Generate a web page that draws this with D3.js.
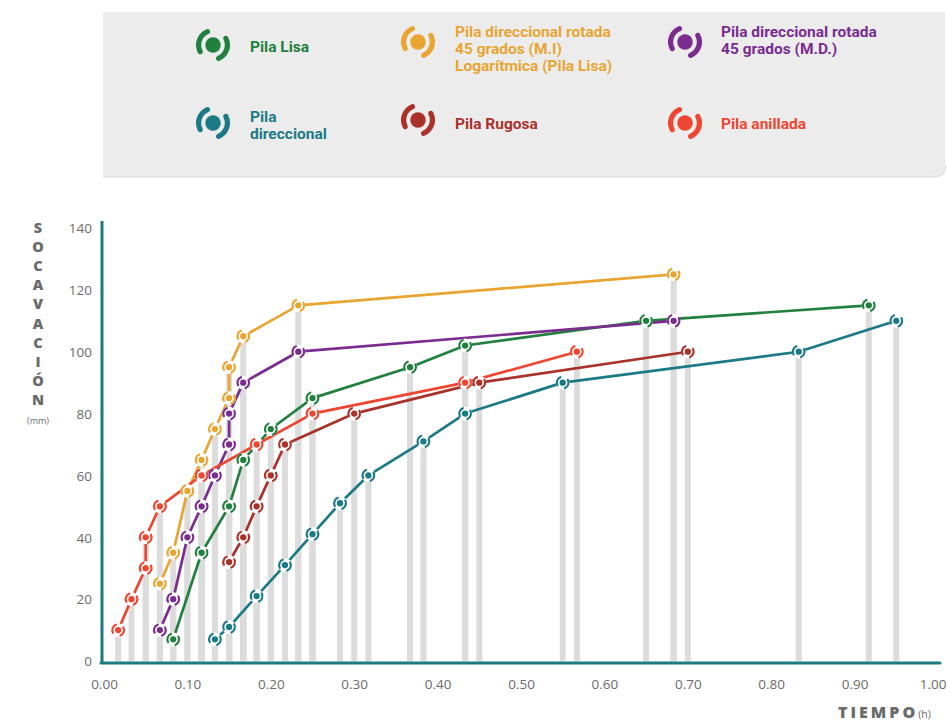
<!DOCTYPE html>
<html>
<head>
<meta charset="utf-8">
<script src="https://cdn.jsdelivr.net/npm/d3@7"></script>
<style>
  html, body { margin: 0; padding: 0; background: #fff; }
  svg { display: block; }
  text { font-family: "Open Sans", "Noto Sans", sans-serif; }
  .lg { font-family: Roboto, "Noto Sans", sans-serif; font-weight: 700; font-size: 15.5px; }
</style>
</head>
<body>
<svg id="chart" width="947" height="722"></svg>
<script>
// Scour depth (mm) over time (h) for each pier type
const seriesNames = [
  "Pila Lisa",
  "Pila direccional rotada 45 grados (M.I) Logarítmica (Pila Lisa)",
  "Pila direccional rotada 45 grados (M.D.)",
  "Pila direccional",
  "Pila Rugosa",
  "Pila anillada"
];
const seriesColors = ["#22803f", "#e8a532", "#7a2c8f", "#1b7a85", "#a9322b", "#ee4631"];

const lisaTime  = [0.083, 0.117, 0.15, 0.167, 0.2, 0.25, 0.367, 0.433, 0.65, 0.917];
const lisaDepth = [7, 35, 50, 65, 75, 85, 95, 102, 110, 115];

const rotMITime  = [0.067, 0.083, 0.1, 0.117, 0.133, 0.15, 0.15, 0.167, 0.233, 0.683];
const rotMIDepth = [25, 35, 55, 65, 75, 85, 95, 105, 115, 125];

const rotMDTime  = [0.067, 0.083, 0.1, 0.117, 0.133, 0.15, 0.15, 0.167, 0.233, 0.683];
const rotMDDepth = [10, 20, 40, 50, 60, 70, 80, 90, 100, 110];

const direcTime  = [0.133, 0.15, 0.183, 0.217, 0.25, 0.283, 0.317, 0.383, 0.433, 0.55, 0.833, 0.95];
const direcDepth = [7, 11, 21, 31, 41, 51, 60, 71, 80, 90, 100, 110];

const rugosaTime  = [0.15, 0.167, 0.183, 0.2, 0.217, 0.3, 0.45, 0.7];
const rugosaDepth = [32, 40, 50, 60, 70, 80, 90, 100];

const anilladaTime  = [0.017, 0.033, 0.05, 0.05, 0.067, 0.117, 0.183, 0.25, 0.433, 0.567];
const anilladaDepth = [10, 20, 30, 40, 50, 60, 70, 80, 90, 100];

const xTicks = [0, 0.1, 0.2, 0.3, 0.4, 0.5, 0.6, 0.7, 0.8, 0.9, 1.0];
const yTicks = [0, 20, 40, 60, 80, 100, 120, 140];

const yTitleLetters = ["S", "O", "C", "A", "V", "A", "C", "I", "Ó", "N"];

const legendLines = [
  ["Pila Lisa"],
  ["Pila direccional rotada", "45 grados (M.I)", "Logarítmica (Pila Lisa)"],
  ["Pila direccional rotada", "45 grados (M.D.)"],
  ["Pila", "direccional"],
  ["Pila Rugosa"],
  ["Pila anillada"]
];

const times  = [lisaTime, rotMITime, rotMDTime, direcTime, rugosaTime, anilladaTime];
const depths = [lisaDepth, rotMIDepth, rotMDDepth, direcDepth, rugosaDepth, anilladaDepth];
const series = seriesNames.map((name, i) => ({
  name, color: seriesColors[i], legend: legendLines[i],
  points: times[i].map((t, j) => ({ t, d: depths[i][j] }))
}));

const svg = d3.select("#chart");
const axisColor = "#1b7a80";

// Pier symbol: centre dot flanked by two opposed arcs
function drawSymbol(g, color, s, bg) {
  const arcGen = d3.arc().innerRadius(s * 0.76).outerRadius(s * 1.1).cornerRadius(s * 0.17);
  const deg = Math.PI / 180;
  if (bg) g.append("circle").attr("r", s * 1.1).attr("fill", "#fff");
  g.append("path").attr("d", arcGen({ startAngle: 232 * deg, endAngle: 348 * deg })).attr("fill", color);
  g.append("path").attr("d", arcGen({ startAngle: 52 * deg, endAngle: 168 * deg })).attr("fill", color);
  g.append("circle").attr("r", s * 0.5).attr("fill", color);
}

// ---- Legend panel
const lx0 = 103, ly0 = 12, lx1 = 945, ly1 = 175, rr = 10;
svg.append("path")
  .attr("d", `M${lx0},${ly1 + 1.5} H${lx1 - rr} Q${lx1},${ly1 + 1.5} ${lx1},${ly1 - rr}`)
  .attr("fill", "none").attr("stroke", "#e2e2e2").attr("stroke-width", 2);
svg.append("path")
  .attr("d", `M${lx0},${ly0} H${lx1} V${ly1 - rr} Q${lx1},${ly1} ${lx1 - rr},${ly1} H${lx0} Z`)
  .attr("fill", "#ececec");

const iconPos = [
  { x: 213, y: 45 }, { x: 418, y: 42 }, { x: 685, y: 42 },
  { x: 213, y: 123 }, { x: 418, y: 120 }, { x: 685, y: 123 }
];
const textPos = [
  { x: 250, y: 52 }, { x: 455, y: 37 }, { x: 721, y: 37 },
  { x: 250, y: 122 }, { x: 455, y: 129 }, { x: 721, y: 129 }
];
series.forEach((s, i) => {
  const ic = svg.append("g").attr("transform", `translate(${iconPos[i].x},${iconPos[i].y})`);
  drawSymbol(ic, s.color, 15.5, false);
  const t = svg.append("text").attr("class", "lg").attr("fill", s.color)
    .attr("x", textPos[i].x).attr("y", textPos[i].y);
  s.legend.forEach((ln, k) => {
    t.append("tspan").attr("x", textPos[i].x).attr("dy", k === 0 ? 0 : 17).text(ln);
  });
});

// ---- Scales
const x = d3.scaleLinear().domain([0, 1]).range([104, 938]);
const y = d3.scaleLinear().domain([0, 140]).range([661, 228]);

// Gray drop bars from every point to the baseline
const allPts = series.flatMap(s => s.points);
svg.append("g").selectAll("line").data(allPts).join("line")
  .attr("x1", d => x(d.t)).attr("x2", d => x(d.t))
  .attr("y1", d => y(d.d)).attr("y2", y(0))
  .attr("stroke", "#dcdcdc").attr("stroke-width", 6);

// Axes
const xAxis = svg.append("g").attr("transform", `translate(0,${y(0) + 2})`)
  .call(d3.axisBottom(x).tickValues(xTicks).tickFormat(d3.format(".2f")).tickSize(0).tickPadding(16));
const yAxis = svg.append("g").attr("transform", `translate(${x(0) - 12},0)`)
  .call(d3.axisLeft(y).tickValues(yTicks).tickSize(0).tickPadding(0));
[xAxis, yAxis].forEach(a => {
  a.select(".domain").remove();
  a.selectAll("text").attr("fill", "#6b6b6b").style("font-size", "13.5px")
    .style("font-family", "'Open Sans', sans-serif");
});
yAxis.selectAll("text").attr("dy", "0.35em");
// last tick label sits against the right edge of the page
xAxis.selectAll(".tick").filter(d => d === 1).select("text")
  .attr("text-anchor", "end").attr("x", 946 - x(1));

svg.append("line").attr("x1", 102).attr("x2", 102).attr("y1", 221).attr("y2", 664)
  .attr("stroke", axisColor).attr("stroke-width", 3);
svg.append("line").attr("x1", 101).attr("x2", 940).attr("y1", 663).attr("y2", 663)
  .attr("stroke", axisColor).attr("stroke-width", 3).attr("stroke-linecap", "round");

// Series lines
const line = d3.line().x(d => x(d.t)).y(d => y(d.d));
series.forEach(s => {
  svg.append("path").datum(s.points).attr("d", line)
    .attr("fill", "none").attr("stroke", s.color).attr("stroke-width", 2.7)
    .attr("stroke-linejoin", "round");
});
series.forEach(s => {
  svg.append("g").selectAll("g").data(s.points).join("g")
    .attr("transform", d => `translate(${x(d.t)},${y(d.d)})`)
    .each(function () { drawSymbol(d3.select(this), s.color, 6.3, true); });
});

// Axis titles
const yt = svg.append("g");
yTitleLetters.forEach((ch, i) => {
  yt.append("text").attr("x", 38).attr("y", 233 + i * 19.1).attr("text-anchor", "middle")
    .attr("fill", "#6a6a6a").style("font-size", "14.5px").style("font-weight", "800")
    .style("font-family", "'Open Sans', sans-serif").text(ch);
});
yt.append("text").attr("x", 38).attr("y", 424).attr("text-anchor", "middle")
  .attr("fill", "#6e6e6e").style("font-size", "9px").text("(mm)");

const xt = svg.append("text").attr("x", 838).attr("y", 718).attr("fill", "#6a6a6a");
xt.append("tspan").style("font-size", "16px").style("font-weight", "800").style("letter-spacing", "3px").text("TIEMPO");
xt.append("tspan").style("font-size", "10.5px").text("(h)");
</script>
</body>
</html>
